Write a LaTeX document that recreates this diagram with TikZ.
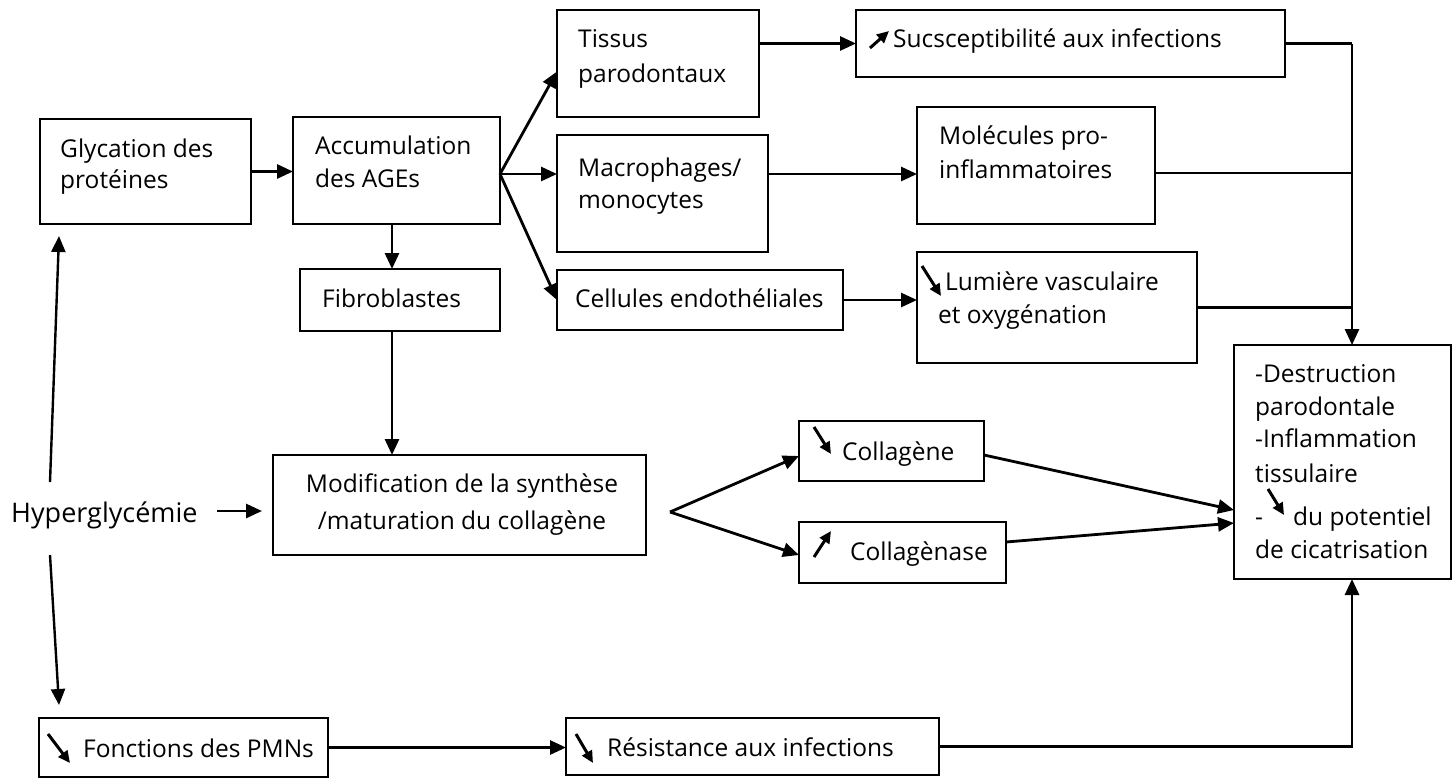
\documentclass[tikz,border=0pt]{standalone}
\usepackage{fontspec}
\setmainfont{Open Sans}
\usetikzlibrary{arrows.meta}
\newcommand{\mybox}[5]{\node[box, minimum width={(#4)-(#2)}, minimum height={(#5)-(#3)}] (#1) at ({((#2)+(#4))/2},{((#3)+(#5))/2}) {};}
\begin{document}
\begin{tikzpicture}[x=1pt,y=-1pt,
  box/.style={draw, line width=2.6pt, inner sep=0pt, outer sep=0pt},
  lbl/.style={font=\fontsize{24.5}{32}\selectfont, inner sep=0pt, anchor=base west},
  conn/.style={line width=2.8pt, -{Triangle[length=16pt,width=14pt]}},
  plain/.style={line width=2.2pt},
  ico/.style={line width=3pt, -{Triangle[length=12pt,width=11pt]}}]
\useasboundingbox (0,0) rectangle (1456,780);
% boxes
\mybox{glyc}{40}{119}{251}{224}
\mybox{accu}{293}{117}{500}{224}
\mybox{fibro}{300}{269}{500}{331}
\mybox{tissus}{557}{10}{759}{117}
\mybox{macro}{557}{135}{768}{252}
\mybox{cell}{557}{270}{843}{330}
\mybox{susc}{856}{10}{1285}{77}
\mybox{mol}{917}{107}{1155}{224}
\mybox{lum}{917}{252}{1197}{363}
\mybox{dest}{1234}{345}{1451}{579}
\mybox{modif}{273}{455}{646}{555}
\mybox{colg}{799}{421}{984}{481}
\mybox{colgn}{799}{522}{1006}{583}
\mybox{pmn}{39}{718}{328}{777}
\mybox{resist}{566}{718}{939}{775}
% labels
\node[lbl] (tglyc1) at (60,157) {Glycation des};
\node[lbl] (tglyc2) at (60,188) {protéines};
\node[lbl] (taccu1) at (315,154) {Accumulation};
\node[lbl] (taccu2) at (315,187) {des AGEs};
\node[lbl] (tfibro) at (322,307) {Fibroblastes};
\node[lbl] (ttis1) at (578,47) {Tissus};
\node[lbl] (ttis2) at (578,82) {parodontaux};
\node[lbl] (tmac1) at (578,176) {Macrophages/};
\node[lbl] (tmac2) at (578,208) {monocytes};
\node[lbl] (tcell) at (575,307) {Cellules endothéliales};
\node[lbl] (tsusc) at (893,47) {Sucsceptibilité aux infections};
\node[lbl] (tmol1) at (939,144) {Molécules pro-};
\node[lbl] (tmol2) at (939,178) {inflammatoires};
\node[lbl] (tlum1) at (945,290) {Lumière vasculaire};
\node[lbl] (tlum2) at (938,323) {et oxygénation};
\node[lbl] (td1) at (1255,382) {-Destruction};
\node[lbl] (td2) at (1255,415) {parodontale};
\node[lbl] (td3) at (1255,447) {-Inflammation};
\node[lbl] (td4) at (1255,482) {tissulaire};
\node[lbl] (td5a) at (1255,525) {-};
\node[lbl] (td5b) at (1293,525) {du potentiel};
\node[lbl] (td6) at (1255,558) {de cicatrisation};
\node[lbl, anchor=base] (tmod1) at (462,492) {Modification de la synthèse};
\node[lbl, anchor=base] (tmod2) at (462,529) {/maturation du collagène};
\node[lbl] (tcolg) at (842,460) {Collagène};
\node[lbl] (tcolgn) at (850,560) {Collagènase};
\node[lbl] (tpmn) at (83,757) {Fonctions des PMNs};
\node[lbl] (tres) at (607,756) {Résistance aux infections};
\node[lbl, font=\fontsize{27}{32}\selectfont] (hyper) at (11,522) {Hyperglycémie};
% small trend arrows
\draw[ico] (870,48) -- (889,31);
\draw[ico] (922,266) -- (941,296);
\draw[ico] (1268,489) -- (1284,515);
\draw[ico] (814,427) -- (831,454);
\draw[ico] (814,557) -- (831,531);
\draw[ico] (48,734) -- (70,763);
\draw[ico] (576,734) -- (593,763);
% connector coordinates
\coordinate (hyUp) at (50,482);
\coordinate (glycTip) at (59,236);
\coordinate (hyDn) at (50,555);
\coordinate (pmnTip) at (59,705);
\coordinate (hyR) at (217,511);
\coordinate (modTip) at (262,511);
\coordinate (fan) at ([yshift=-3.5pt]accu.east);
\coordinate (fan2) at (670,512);
\coordinate (barX) at (1352,0);
% connectors
\draw[conn, line width=2.4pt] (hyUp) -- (glycTip);
\draw[conn, line width=2.4pt] (hyDn) -- (pmnTip);
\draw[conn] (hyR) -- (modTip);
\draw[conn] (glyc.east) -- (glyc.east -| accu.west);
\draw[conn] ([xshift=-4.5pt]accu.south) -- ([xshift=-4.5pt]accu.south |- fibro.north);
\draw[conn] ([xshift=-8pt]fibro.south) -- ([xshift=-8pt]fibro.south |- modif.north);
\draw[conn] (fan) -- ([yshift=-8pt]tissus.west);
\draw[conn] (fan) -- (macro.west |- fan);
\draw[conn] (fan) -- (cell.west);
\draw[conn] (tissus.east |- susc.west) -- (susc.west);
\draw[conn] (macro.east |- fan) -- (mol.west |- fan);
\draw[conn] (cell.east) -- (cell.east -| lum.west);
\draw[plain] (susc.east) -- (susc.east -| barX);
\draw[plain] ([yshift=-7.5pt]mol.east) -- ([yshift=-7.5pt]mol.east -| barX);
\draw[plain] (lum.east) -- (lum.east -| barX);
\draw[conn] (susc.east -| barX) -- (barX |- dest.north);
\draw[conn] (fan2) -- ([yshift=-5pt]colg.west);
\draw[conn] (fan2) -- ([yshift=-2.5pt]colgn.west);
\draw[conn] ([yshift=-4pt]colg.east) -- ([yshift=-48pt]dest.west);
\draw[conn] ([yshift=10.5pt]colgn.east) -- ([yshift=-61pt]dest.west);
\draw[conn] (pmn.east) -- (pmn.east -| resist.west);
\draw[conn] (resist.east) -- (resist.east -| barX) -- (barX |- dest.south);
\end{tikzpicture}
\end{document}
